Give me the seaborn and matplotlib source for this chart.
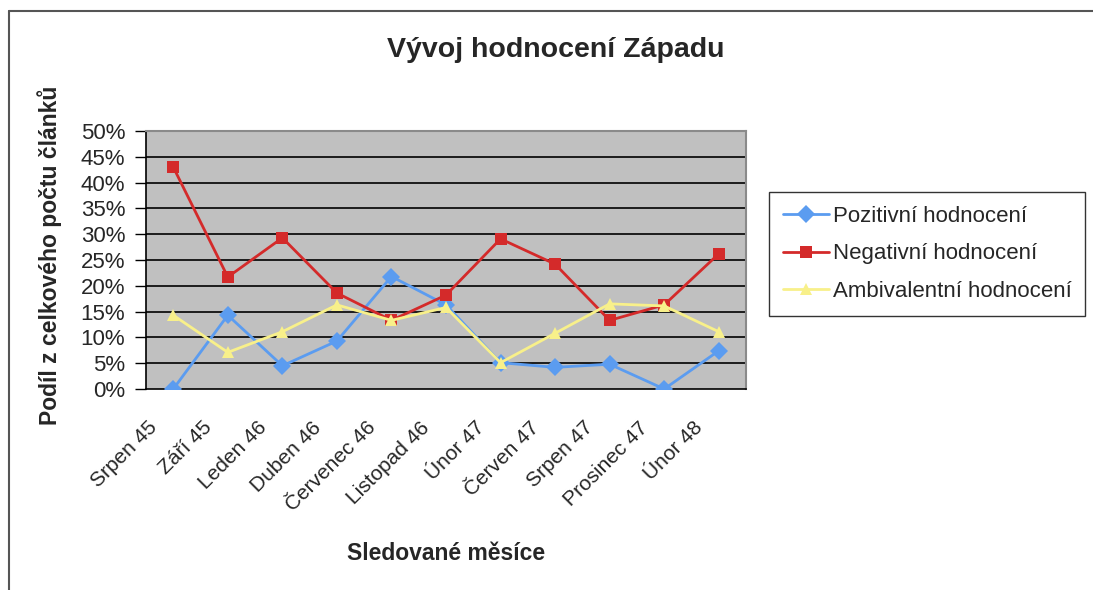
import matplotlib
matplotlib.use("Agg")
import matplotlib.pyplot as plt
import matplotlib.transforms as mtransforms
import seaborn as sns
import pandas as pd
import numpy as np
from matplotlib.lines import Line2D

months = ["Srpen 45", "Září 45", "Leden 46", "Duben 46", "Červenec 46", "Listopad 46",
          "Únor 47", "Červen 47", "Srpen 47", "Prosinec 47", "Únor 48"]
pozitivni = [0.0, 14.3, 4.5, 9.3, 21.8, 16.3, 5.1, 4.2, 4.8, 0.0, 7.4]
negativni = [43.0, 21.7, 29.3, 18.6, 13.3, 18.2, 29.1, 24.2, 13.3, 16.3, 26.2]
ambivalentni = [14.3, 7.1, 11.1, 16.3, 13.3, 15.8, 5.1, 10.8, 16.5, 16.1, 11.1]
series_names = ["Pozitivní hodnocení", "Negativní hodnocení", "Ambivalentní hodnocení"]
yticks = [0, 5, 10, 15, 20, 25, 30, 35, 40, 45, 50]

colors = {series_names[0]: "#5b9cf0", series_names[1]: "#d42a2a", series_names[2]: "#f8f08a"}
markers = {series_names[0]: "D", series_names[1]: "s", series_names[2]: "^"}

sns.set_theme(style="white")
plt.rcParams["font.family"] = ["Liberation Sans", "DejaVu Sans"]

rows = []
for name, vals in zip(series_names, [pozitivni, negativni, ambivalentni]):
    for i, v in enumerate(vals):
        rows.append({"pos": i, "value": v, "series": name})
df = pd.DataFrame(rows)

fig = plt.figure(figsize=(10.93, 5.90), dpi=100)
ax = fig.add_axes([146/1093, 1-389/590, 600/1093, 258/590])
ax.set_facecolor("#c0c0c0")

ax.set_ylim(0, 50)
ax.set_xlim(-0.5, len(months) - 0.5)
for y in yticks[1:]:
    ax.axhline(y, color="black", lw=1.2, zorder=1)

sns.lineplot(data=df, x="pos", y="value", hue="series", style="series",
             palette=colors, markers=markers, dashes=False, markersize=9,
             markeredgewidth=0, linewidth=2, ax=ax, legend=False, zorder=3,
             sort=False)

ax.set_yticks(yticks)
ax.set_yticklabels([f"{t}%" for t in yticks], fontsize=16)
ax.set_xticks(range(len(months)))
ax.set_xticklabels(months, rotation=45, ha="right", va="center",
                   rotation_mode="anchor", fontsize=15)
ax.tick_params(axis="x", which="major", length=0, pad=12)
ax.set_xticks(np.arange(-0.5, len(months) + 0.5, 1), minor=True)
ax.tick_params(axis="x", which="minor", length=7, color="black", direction="out", width=1)
ax.tick_params(axis="y", length=8, color="black", direction="out", width=1, left=True, pad=7)

offset = mtransforms.ScaledTranslation(-0.19, -0.19, fig.dpi_scale_trans)
for lab in ax.xaxis.get_majorticklabels():
    lab.set_transform(lab.get_transform() + offset)

for s in ["left", "bottom"]:
    ax.spines[s].set_color("black")
    ax.spines[s].set_linewidth(1.2)
for s in ["top", "right"]:
    ax.spines[s].set_color("#8a8a8a")
    ax.spines[s].set_linewidth(1.5)

ax.set_xlabel("Sledované měsíce", fontsize=16.5, fontweight="bold")
ax.set_ylabel("Podíl z celkového počtu článků", fontsize=16.5, fontweight="bold")
ax.xaxis.set_label_coords(0.5, -0.593)
ax.yaxis.set_label_coords(-0.140, 0.52)

fig.text(556/1093, 1-50/590, "Vývoj hodnocení Západu", fontsize=20.5, fontweight="bold",
         ha="center", va="center")

handles = [Line2D([0], [0], color=colors[n], marker=markers[n], markersize=9,
                  markeredgewidth=0, lw=2) for n in series_names]
leg = fig.legend(handles, series_names, loc="upper left",
                 bbox_to_anchor=(769/1093, 1-192/590), fontsize=16,
                 frameon=True, fancybox=False, edgecolor="black", handlelength=2.1,
                 handletextpad=0.15, borderpad=0.62, labelspacing=0.75, borderaxespad=0)
leg.get_frame().set_linewidth(1)

fig.add_artist(Line2D([9/1093, 9/1093], [0, 1-11/590], color="#555555", lw=1.5,
                      transform=fig.transFigure))
fig.add_artist(Line2D([9/1093, 1], [1-11/590, 1-11/590], color="#555555", lw=1.5,
                      transform=fig.transFigure))

fig.savefig("out.png", dpi=100)
